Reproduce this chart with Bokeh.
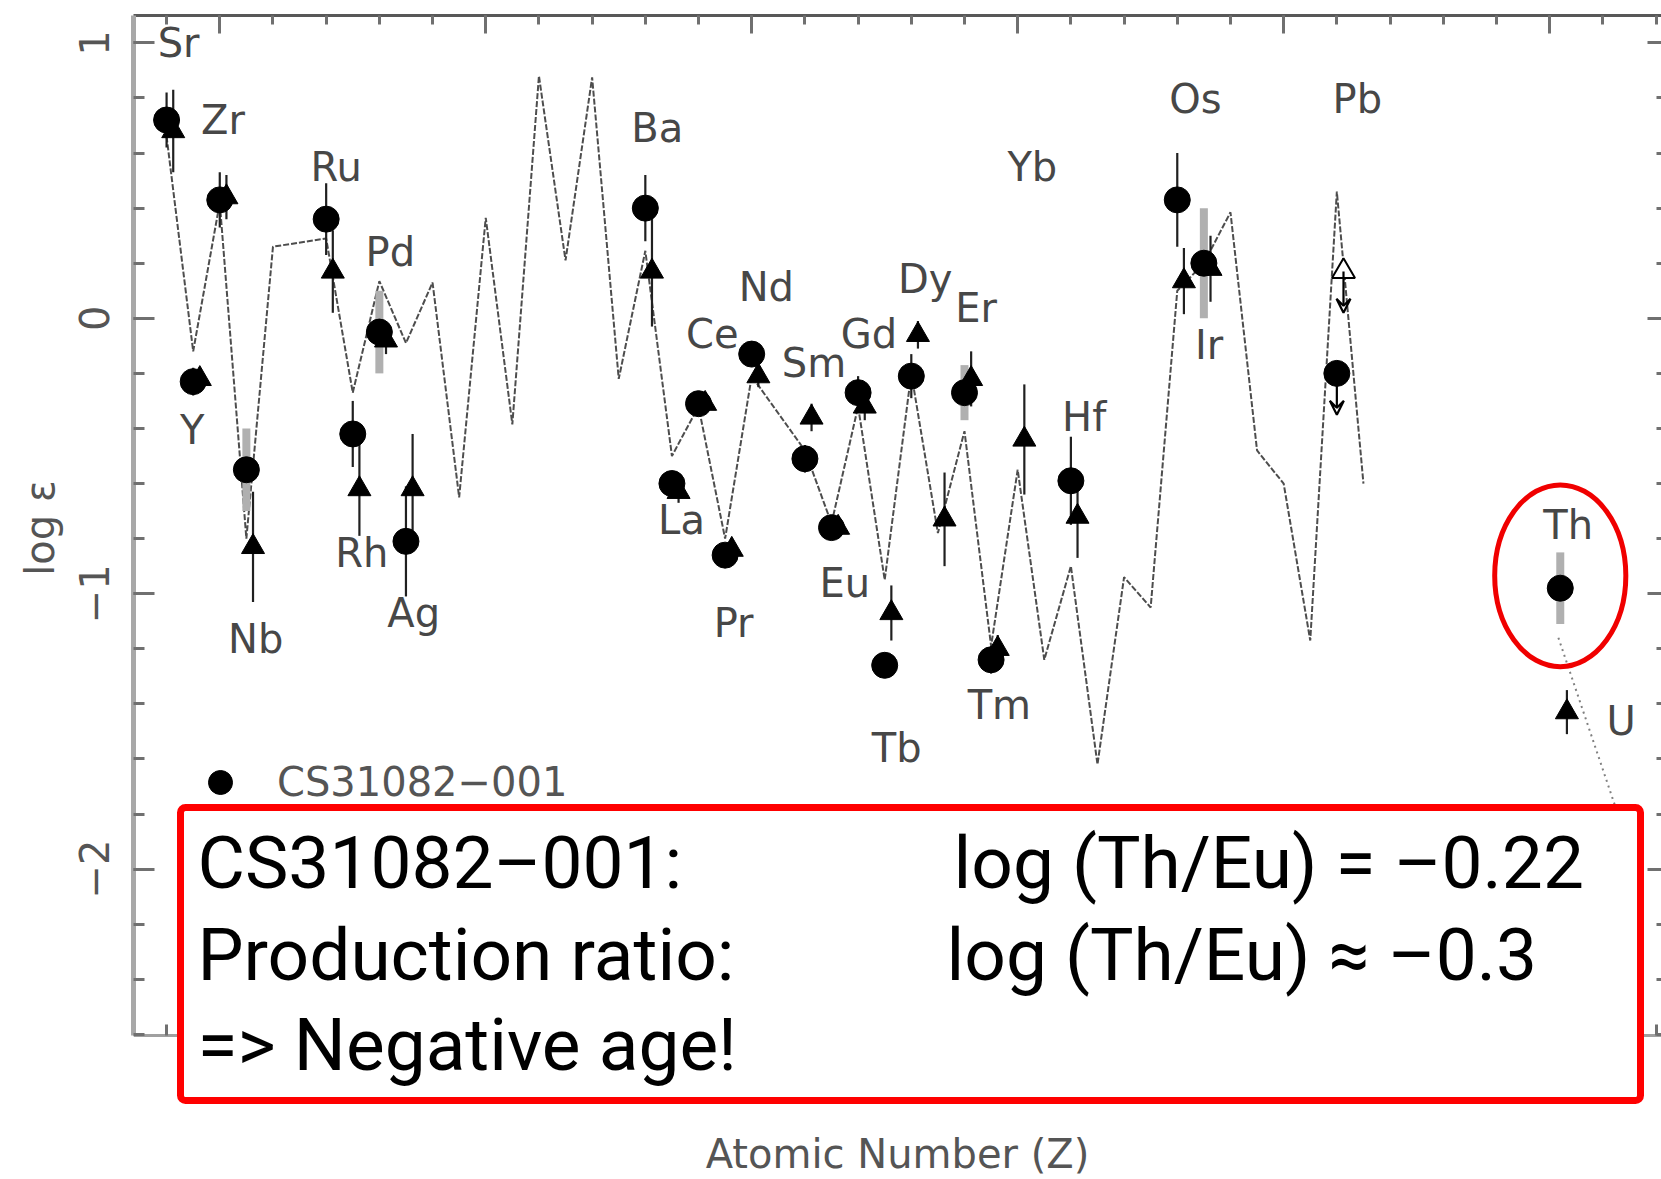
from bokeh.plotting import figure
from bokeh.models import (ColumnDataSource, Range1d, LinearAxis, SingleIntervalTicker,
                          Label, BoxAnnotation, Arrow, VeeHead, Legend, LegendItem,
                          CustomJSTickFormatter, Title)
from bokeh.transform import dodge
from bokeh.core.properties import value
from bokeh.embed import file_html
from bokeh.resources import INLINE

# ---------------------------------------------------------------------------
# CS 31082-001 abundances, log eps (filled circles)
circ_el = ["Sr", "Y", "Zr", "Nb", "Ru", "Rh", "Pd", "Ag", "Ba", "La", "Ce", "Pr",
           "Nd", "Sm", "Eu", "Gd", "Tb", "Dy", "Er", "Tm", "Hf", "Os", "Ir", "Th"]
circ_z = [38, 39, 40, 41, 44, 45, 46, 47, 56, 57, 58, 59,
          60, 62, 63, 64, 65, 66, 68, 69, 72, 76, 77, 90.4]
circ_logeps = [0.72, -0.23, 0.43, -0.55, 0.36, -0.42, -0.05, -0.81, 0.40, -0.60, -0.31, -0.86,
               -0.13, -0.51, -0.76, -0.27, -1.26, -0.21, -0.27, -1.24, -0.59, 0.43, 0.20, -0.98]
circ_err = [0.10, 0.05, 0.10, 0.0, 0.13, 0.12, 0.0, 0.20, 0.12, 0.04, 0.04, 0.04,
            0.04, 0.05, 0.04, 0.06, 0.0, 0.08, 0.0, 0.05, 0.16, 0.17, 0.0, 0.0]
circ_band = [0, 0, 0, 0.15, 0, 0, 0.15, 0, 0, 0, 0, 0,
             0, 0, 0, 0, 0, 0, 0.10, 0, 0, 0, 0.20, 0.13]

# comparison star (filled triangles)
tri_el = ["Sr", "Y", "Zr", "Nb", "Ru", "Rh", "Pd", "Ag", "Ba", "La", "Ce", "Pr", "Nd",
          "Sm", "Eu", "Gd", "Tb", "Dy", "Ho", "Er", "Tm", "Yb", "Hf", "Os", "Ir", "U"]
tri_z = [38, 39, 40, 41, 44, 45, 46, 47, 56, 57, 58, 59, 60,
         62, 63, 64, 65, 66, 67, 68, 69, 70, 72, 76, 77, 90.4]
tri_logeps = [0.68, -0.22, 0.44, -0.83, 0.17, -0.62, -0.08, -0.62, 0.17, -0.63, -0.31, -0.84, -0.21,
              -0.36, -0.76, -0.32, -1.07, -0.06, -0.73, -0.22, -1.20, -0.44, -0.72, 0.135, 0.18, -1.43]
tri_err = [0.15, 0.04, 0.08, 0.20, 0.15, 0.17, 0.05, 0.20, 0.20, 0.04, 0.04, 0.04, 0.04,
           0.05, 0.04, 0.05, 0.10, 0.05, 0.17, 0.10, 0.05, 0.20, 0.15, 0.12, 0.12, 0.08]

# lead: upper limits for both stars
pb_z = 82
pb_circ_limit = -0.20
pb_tri_limit = 0.17

# scaled solar-system r-process pattern
sol_z = [38, 39, 40, 41, 42, 44, 45, 46, 47, 48, 49, 50, 51, 52, 53, 54, 55, 56, 57, 58, 59, 60,
         62, 63, 64, 65, 66, 67, 68, 69, 70, 71, 72, 73, 74, 75, 76, 77, 78, 79, 80, 81, 82, 83]
sol_logeps = [0.66, -0.12, 0.42, -0.80, 0.26, 0.29, -0.27, 0.135, -0.09, 0.13, -0.65, 0.365,
              -0.385, 0.88, 0.21, 0.875, -0.22, 0.245, -0.50, -0.32, -0.80, -0.21,
              -0.48, -0.745, -0.32, -0.95, -0.20, -0.78, -0.41, -1.19, -0.55, -1.24,
              -0.90, -1.62, -0.94, -1.05, 0.10, 0.20, 0.385, -0.48, -0.60, -1.17, 0.46, -0.60]

# Th -> U continuation (dotted)
thu_z = [90.33, 92.6]
thu_logeps = [-1.16, -1.81]

# element names written on the chart
lab_text = ["Sr", "Zr", "Y", "Nb", "Ru", "Pd", "Rh", "Ag", "Ba", "La", "Ce", "Pr", "Nd", "Sm",
            "Gd", "Eu", "Dy", "Er", "Tb", "Tm", "Yb", "Hf", "Os", "Ir", "Pb", "Th", "U"]
lab_z = [38.45, 40.12, 38.96, 41.35, 44.38, 46.41, 45.34, 47.29, 56.45, 57.36, 58.52, 59.32,
         60.55, 62.34, 64.41, 63.50, 66.52, 68.44, 65.45, 69.31, 70.55, 72.50, 76.68, 77.20,
         82.77, 90.70, 92.69]
lab_y = [1.0, 0.72, -0.404, -1.165, 0.55, 0.242, -0.854, -1.069, 0.692, -0.731, -0.058, -1.108,
         0.115, -0.161, -0.058, -0.962, 0.142, 0.038, -1.562, -1.404, 0.55, -0.358, 0.796,
         -0.096, 0.796, -0.75, -1.462]

# ---------------------------------------------------------------------------
W, H = 1661, 1179
FRAME_L, FRAME_R, FRAME_T = 133, 1661, 15
AXIS_B = 1035            # where the abscissa is drawn
TRI_DODGE = 0.25
LABEL_FONT = "DejaVu Sans"
INK = "#474747"


def zpix(px):
    """canvas x (px) -> atomic number"""
    return 65 + (px - 884.2) / 26.597


def ypix(py):
    """canvas y (px) -> log eps"""
    return (317.8 - py) / 275.4


# the frame runs to the bottom of the canvas so the boxed statement can hang below the axis
p = figure(width=W, height=H,
           x_range=Range1d(zpix(FRAME_L), zpix(FRAME_R)),
           y_range=Range1d(ypix(H), ypix(FRAME_T)),
           output_backend="svg", toolbar_location=None,
           x_axis_location=None, y_axis_location=None,
           min_border_left=FRAME_L, min_border_right=W - FRAME_R,
           min_border_top=FRAME_T, min_border_bottom=0,
           outline_line_color=None, background_fill_color="white",
           border_fill_color="white")
p.xgrid.visible = False
p.ygrid.visible = False

y_bounds = (ypix(AXIS_B), ypix(FRAME_T))
tick_style = dict(major_tick_line_color="#707070", major_tick_line_width=3, major_tick_out=0,
                  minor_tick_line_color="#707070", minor_tick_line_width=3, minor_tick_out=0)
no_labels = dict(formatter=CustomJSTickFormatter(code="return ''"),
                 major_label_text_font_size="1px", major_label_standoff=0)

yaxis = LinearAxis(ticker=SingleIntervalTicker(interval=1, num_minor_ticks=5), bounds=y_bounds,
                   major_label_orientation="parallel", major_label_text_font=LABEL_FONT,
                   major_label_text_font_size="40px", major_label_text_color="#555555",
                   major_label_standoff=24, major_label_overrides={-1: "−1", -2: "−2"},
                   axis_line_color="#a8a8a8", axis_line_width=5,
                   major_tick_in=21, minor_tick_in=11, **tick_style)
p.add_layout(yaxis, "left")

# ordinate title, placed along the drawn part of the axis
p.add_layout(Title(text="log ε", align="right", offset=465, standoff=28,
                   text_font=LABEL_FONT, text_font_size="40px", text_font_style="normal",
                   text_color="#555555"), "left")

xaxis = LinearAxis(ticker=SingleIntervalTicker(interval=10, num_minor_ticks=5),
                   fixed_location=ypix(AXIS_B),
                   axis_label="Atomic Number (Z)", axis_label_text_font=LABEL_FONT,
                   axis_label_text_font_size="40px", axis_label_text_font_style="normal",
                   axis_label_text_color="#555555", axis_label_standoff=95,
                   axis_line_color="#a0a0a0", axis_line_width=3,
                   major_tick_in=21, minor_tick_in=11, **tick_style, **no_labels)
p.add_layout(xaxis, "below")

top = LinearAxis(ticker=SingleIntervalTicker(interval=10, num_minor_ticks=5),
                 axis_line_color="#585858", axis_line_width=3,
                 major_tick_in=18, minor_tick_in=9, **tick_style, **no_labels)
p.add_layout(top, "above")

right = LinearAxis(ticker=SingleIntervalTicker(interval=1, num_minor_ticks=5), bounds=y_bounds,
                   axis_line_color=None, major_tick_in=14, minor_tick_in=5,
                   **tick_style, **no_labels)
p.add_layout(right, "right")

# solar r-process curve
p.line(sol_z, sol_logeps, line_color="#4d4d4d", line_width=2, line_dash="6 2")
p.line(thu_z, thu_logeps, line_color="#808080", line_width=2, line_dash="2 4")

# stars
circ = ColumnDataSource(dict(
    z=circ_z, y=circ_logeps,
    lo=[y - e for y, e in zip(circ_logeps, circ_err)],
    hi=[y + e for y, e in zip(circ_logeps, circ_err)]))
band_idx = [i for i, b in enumerate(circ_band) if b > 0]
band = ColumnDataSource(dict(
    z=[circ_z[i] for i in band_idx],
    lo=[circ_logeps[i] - circ_band[i] for i in band_idx],
    hi=[circ_logeps[i] + circ_band[i] for i in band_idx]))
tri = ColumnDataSource(dict(
    z=tri_z, y=tri_logeps,
    lo=[y - e for y, e in zip(tri_logeps, tri_err)],
    hi=[y + e for y, e in zip(tri_logeps, tri_err)]))

p.segment(x0="z", y0="lo", x1="z", y1="hi", source=band,
          line_color="#b0b0b0", line_width=8)
p.segment(x0="z", y0="lo", x1="z", y1="hi", source=circ,
          line_color="#202020", line_width=2.2)
p.segment(x0=dodge("z", TRI_DODGE), y0="lo", x1=dodge("z", TRI_DODGE), y1="hi", source=tri,
          line_color="#202020", line_width=2.2)

circ_r = p.scatter("z", "y", source=circ, marker="circle", size=26,
                   fill_color="black", line_color="black")
p.scatter(dodge("z", TRI_DODGE), "y", source=tri, marker="triangle", size=23,
          fill_color="black", line_color="black")

# lead upper limits
p.scatter([pb_z], [pb_circ_limit], marker="circle", size=26, fill_color="black", line_color="black")
p.scatter([pb_z + TRI_DODGE], [pb_tri_limit], marker="triangle", size=23,
          fill_color="white", line_color="black", line_width=2)
for zz, yy in ((pb_z, pb_circ_limit), (pb_z + TRI_DODGE, pb_tri_limit)):
    p.add_layout(Arrow(end=VeeHead(size=14, line_color="black", line_width=2.2, fill_color=None),
                       x_start=zz, y_start=yy, x_end=zz, y_end=yy - 0.15,
                       line_color="black", line_width=2.2))

# element names
labs = ColumnDataSource(dict(x=lab_z, y=lab_y, t=lab_text))
p.text(x="x", y="y", text="t", source=labs, text_font=value(LABEL_FONT),
       text_font_size=value("40px"), text_color=INK, text_align="center",
       text_baseline="middle")

# highlight on thorium
th_i = circ_el.index("Th")
p.ellipse(x=[circ_z[th_i]], y=[circ_logeps[th_i] + 0.045], width=4.93, height=0.66,
          fill_color=None, line_color="#f00000", line_width=5)

legend = Legend(items=[LegendItem(label="CS31082−001", renderers=[circ_r])],
                location=(57, 223 + (H - AXIS_B)), padding=0, margin=0, spacing=0,
                glyph_width=60, glyph_height=60, label_standoff=27,
                label_text_font=LABEL_FONT, label_text_font_size="40px",
                label_text_color="#555555", background_fill_alpha=0, border_line_alpha=0)
p.add_layout(legend)

# boxed statement
box = BoxAnnotation(left=zpix(180), right=zpix(1640), top=ypix(807), bottom=ypix(1100),
                    fill_color="white", fill_alpha=1.0, line_color="#ff0000", line_alpha=1.0,
                    line_width=7, border_radius=5)
p.add_layout(box)

BOX_FONT = "Roboto"
box_lines = [
    ("CS31082–001:", 197, 862),
    ("log (Th/Eu) = –0.22", 953, 862),
    ("Production ratio:", 197, 954),
    ("log (Th/Eu) ≈ –0.3", 946, 954),
    ("=> Negative age!", 197, 1044),
]
for txt, px, py in box_lines:
    p.add_layout(Label(x=zpix(px), y=ypix(py), text=txt, text_font=BOX_FONT,
                       text_font_size="73px", text_color="black", text_align="left",
                       text_baseline="alphabetic"))

open("out.html", "w").write(file_html(p, INLINE))
